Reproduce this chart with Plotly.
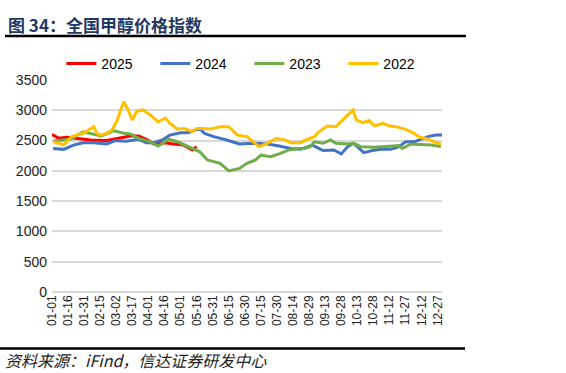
import plotly.graph_objects as go

# ---------------- data (MM-DD, value) ----------------
dates_2025 = ["01-01", "01-07", "01-15", "01-24", "02-06", "02-21", "03-04", "03-15", "03-23",
              "03-30", "04-06", "04-17", "04-24", "05-04", "05-12", "05-16"]
vals_2025 = [2600, 2540, 2555, 2540, 2510, 2500, 2540, 2575, 2575,
             2520, 2445, 2465, 2445, 2425, 2345, 2400]

dates_2024 = ["01-02", "01-12", "01-21", "01-30", "02-09", "02-21", "03-01", "03-11", "03-23",
              "03-30", "04-06", "04-14", "04-21", "05-01", "05-08", "05-14", "05-19", "05-23",
              "06-01", "06-13", "06-25", "07-07", "07-21", "08-01", "08-12", "08-21", "09-01",
              "09-07", "09-11", "09-21", "09-28", "10-04", "10-09", "10-13", "10-19", "10-27",
              "11-04", "11-13", "11-21", "11-27", "12-05", "12-11", "12-18", "12-25", "12-31"]
vals_2024 = [2370, 2355, 2425, 2465, 2465, 2445, 2500, 2490, 2520,
             2465, 2465, 2510, 2590, 2630, 2630, 2675, 2700, 2620,
             2565, 2510, 2445, 2455, 2445, 2410, 2370, 2355, 2425,
             2370, 2335, 2345, 2280, 2400, 2455, 2400, 2300, 2335,
             2355, 2355, 2400, 2480, 2480, 2520, 2565, 2590, 2590]

dates_2023 = ["01-02", "01-18", "01-30", "02-06", "02-16", "02-24", "02-27", "03-09", "03-15",
              "03-23", "04-03", "04-10", "04-20", "04-28", "05-07", "05-13", "05-19", "05-26",
              "06-01", "06-07", "06-15", "06-20", "06-25", "07-02", "07-10", "07-15", "07-24",
              "08-01", "08-10", "08-20", "08-24", "08-30", "09-03", "09-11", "09-18", "09-23",
              "10-04", "10-10", "10-16", "10-29", "11-10", "11-21", "11-24", "12-02", "12-11",
              "12-21", "12-30"]
vals_2023 = [2495, 2520, 2645, 2620, 2575, 2630, 2665, 2620, 2610,
             2535, 2480, 2410, 2520, 2480, 2410, 2370, 2315, 2180,
             2150, 2125, 2000, 2020, 2040, 2125, 2180, 2260, 2235,
             2280, 2345, 2370, 2370, 2400, 2480, 2455, 2510, 2455,
             2445, 2455, 2400, 2390, 2410, 2420, 2370, 2445, 2435,
             2425, 2400]

dates_2022 = ["01-02", "01-12", "01-19", "01-30", "02-09", "02-12", "02-16", "02-21", "02-26",
              "03-03", "03-06", "03-09", "03-13", "03-17", "03-21", "03-27", "04-03", "04-10",
              "04-17", "04-21", "04-28", "05-04", "05-12", "05-16", "05-22", "05-29", "06-07",
              "06-15", "06-23", "07-02", "07-13", "07-21", "07-29", "08-05", "08-12", "08-21",
              "08-26", "09-03", "09-07", "09-15", "09-23", "09-28", "10-04", "10-09", "10-12",
              "10-18", "10-24", "10-29", "11-06", "11-12", "11-18", "11-27", "12-05", "12-10",
              "12-16", "12-24", "12-30"]
vals_2022 = [2480, 2430, 2560, 2620, 2730, 2620, 2590, 2620, 2675,
             2840, 3005, 3140, 3005, 2840, 2980, 3005, 2920, 2810,
             2870, 2785, 2690, 2700, 2650, 2700, 2700, 2690, 2730,
             2730, 2590, 2565, 2400, 2455, 2535, 2520, 2465, 2465,
             2510, 2565, 2645, 2740, 2730, 2810, 2920, 3005, 2840,
             2795, 2830, 2740, 2785, 2740, 2730, 2685, 2620, 2555,
             2535, 2480, 2440]

series_names = ["2025", "2024", "2023", "2022"]
series_dates = [dates_2025, dates_2024, dates_2023, dates_2022]
series_vals = [vals_2025, vals_2024, vals_2023, vals_2022]
series_colors = ["#FF0000", "#4472C4", "#70AD47", "#FFC000"]

y_ticks = [0, 500, 1000, 1500, 2000, 2500, 3000, 3500]

title_text = "图 34：全国甲醇价格指数"
source_text = "资料来源：iFind，信达证券研发中心"

BASE_YEAR = "2021"  # non-leap year used only to place month-day on a date axis

# ---------------- figure ----------------
fig = go.Figure()
for name, ds, vs, col in zip(series_names, series_dates, series_vals, series_colors):
    fig.add_trace(go.Scatter(
        x=[f"{BASE_YEAR}-{d}" for d in ds], y=vs, name=name, mode="lines",
        line=dict(color=col, width=3), hoverinfo="x+y+name"))

num_font = "Arial, 'Liberation Sans', sans-serif"
cjk_font = "'Noto Sans CJK SC', 'Noto Sans CJK JP', sans-serif"

fig.update_layout(
    width=566, height=373,
    margin=dict(l=52, r=124, t=80, b=81),
    paper_bgcolor="white", plot_bgcolor="white",
    showlegend=True,
    legend=dict(orientation="h", x=0.024, xanchor="left", y=1.0, yanchor="bottom",
                font=dict(family=num_font, size=14, color="#000000"),
                bgcolor="rgba(0,0,0,0)", itemwidth=30, traceorder="normal",
                entrywidth=49),
    xaxis=dict(type="date",
               range=[f"{BASE_YEAR}-01-01", f"{BASE_YEAR}-12-31"],
               tick0=f"{BASE_YEAR}-01-01", dtick=15 * 86400000,
               tickformat="%m-%d", tickangle=-90,
               tickfont=dict(family=num_font, size=12, color="#222222"),
               showgrid=False, showline=False, zeroline=False, ticks=""),
    yaxis=dict(range=[0, 3500], tickvals=y_ticks,
               tickfont=dict(family=num_font, size=14, color="#222222"),
               showgrid=True, gridcolor="#D9D9D9", gridwidth=1.5,
               zeroline=True, zerolinecolor="#D9D9D9", zerolinewidth=1.5,
               showline=False, ticks="", ticklabelstandoff=4),
)

# title and source
fig.add_annotation(text=f"<b>{title_text}</b>", xref="paper", yref="paper",
                   x=-0.118, y=1.262, xanchor="left", yanchor="middle", showarrow=False,
                   font=dict(family=cjk_font, size=17, color="#1F3864"))
fig.add_annotation(text=f"<i>{source_text}</i>", xref="paper", yref="paper",
                   x=-0.125, y=-0.321, xanchor="left", yanchor="middle", showarrow=False,
                   font=dict(family=cjk_font, size=16, color="#222222"))
# rules
fig.add_shape(type="line", xref="paper", yref="paper", x0=-0.1205, x1=1.0615, y0=1.2075, y1=1.2075,
              line=dict(color="black", width=2.5))
fig.add_shape(type="line", xref="paper", yref="paper", x0=-0.1333, x1=1.059, y0=-0.2665, y1=-0.2665,
              line=dict(color="black", width=2.5))

fig.write_html("out.html", config={"displayModeBar": False},
               post_script="document.body.style.margin='0';")
